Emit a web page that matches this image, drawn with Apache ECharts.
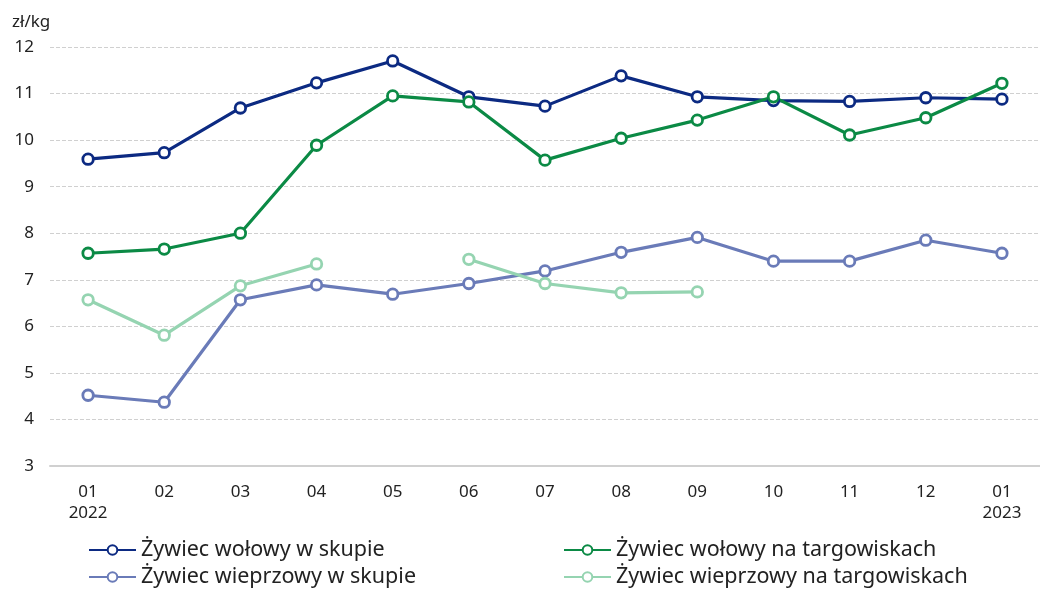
<!DOCTYPE html>
<html><head><meta charset="utf-8">
<script src="https://cdn.jsdelivr.net/npm/echarts@6/dist/echarts.min.js"></script>
<style>html,body{margin:0;padding:0;background:#fff}#c{width:1040px;height:592px}</style>
</head><body><div id="c"></div>
<script>
const categories = ['01\n2022','02','03','04','05','06','07','08','09','10','11','12','01\n2023'];
const yTicks = [3,4,5,6,7,8,9,10,11,12];
const names = ['Żywiec wołowy w skupie','Żywiec wołowy na targowiskach','Żywiec wieprzowy w skupie','Żywiec wieprzowy na targowiskach'];
const wolowySkup = [9.59,9.73,10.69,11.23,11.70,10.93,10.73,11.38,10.93,10.85,10.83,10.91,10.88];
const wolowyTarg = [7.57,7.66,8.00,9.89,10.95,10.82,9.57,10.04,10.43,10.93,10.11,10.48,11.22];
const wieprzSkup = [4.52,4.37,6.57,6.89,6.69,6.92,7.19,7.59,7.91,7.40,7.40,7.85,7.57];
const wieprzTarg = [6.57,5.81,6.87,7.34,null,7.44,6.92,6.72,6.74,null,null,null,null];
const colors = ['#0c2a82','#0b8a45','#6a7bb8','#95d4b1'];
const font = 'Noto Sans';
function mk(name, data, color){
  return {name, type:'line', data, connectNulls:false,
    symbol:'circle', symbolSize:10.5, showSymbol:true,
    lineStyle:{width:3.2,color}, itemStyle:{color:'#fff',borderColor:color,borderWidth:2.8},
    emphasis:{disabled:true}};
}
function lg(name, left, top){
  return {data:[name],left,top,itemWidth:47,itemHeight:12,itemGap:0,padding:0,
    textStyle:{fontFamily:font,fontSize:21.5,color:'#222',padding:[0,0,0,0]}};
}
const chart = echarts.init(document.getElementById('c'),null,{renderer:'canvas'});
chart.setOption({
  animation:false,
  color:colors,
  grid:{left:50,right:0,top:47,bottom:126},
  graphic:[{type:'text',left:12,top:14,style:{text:'zł/kg',font:'17px "Noto Sans"',fill:'#222'}}],
  xAxis:{type:'category',data:categories,boundaryGap:true,
    axisLine:{lineStyle:{color:'#d0d0d0',width:2}},axisTick:{show:false},
    axisLabel:{color:'#222',fontFamily:font,fontSize:17,margin:16,lineHeight:21}},
  yAxis:{type:'value',min:3,max:12,interval:1,
    axisLine:{show:false},axisTick:{show:false},
    splitLine:{lineStyle:{color:'#d0d0d0',type:'dashed',width:1}},
    axisLabel:{color:'#222',fontFamily:font,fontSize:17,margin:16}},
  legend:[lg(names[0],88,539),lg(names[2],88,566),lg(names[1],563,539),lg(names[3],563,566)],
  series:[mk(names[0],wolowySkup,colors[0]),mk(names[1],wolowyTarg,colors[1]),mk(names[2],wieprzSkup,colors[2]),mk(names[3],wieprzTarg,colors[3])]
});
</script></body></html>
